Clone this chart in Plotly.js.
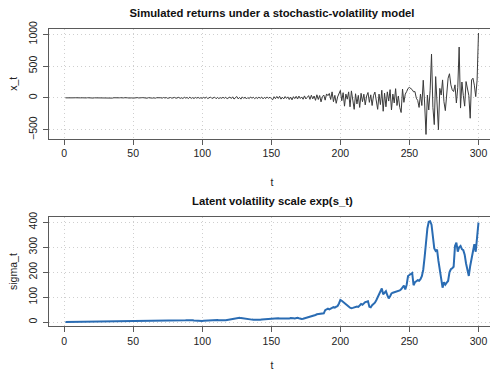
<!DOCTYPE html>
<html>
<head>
<meta charset="utf-8">
<script src="https://cdn.plot.ly/plotly-3.0.1.min.js"></script>
<style>
  html, body { margin: 0; padding: 0; overflow: hidden; background: #fff; }
  #chart { width: 500px; height: 371px; }
</style>
</head>
<body>
<div id="chart"></div>
<script>
// ---- Data ----
const t = [];
for (let i = 1; i <= 300; i++) t.push(i);

const returnsX = [
  0.8,-1.2,0.5,1.6,-0.3,-1.4,0.9,2.1,-0.6,1.1,
  -1.8,0.4,1.3,-2.2,0.7,-0.5,2.4,-1.1,0.2,1.9,
  -2.5,1.0,0.3,-1.7,2.8,-0.9,1.5,-2.6,0.6,3.1,
  -1.4,-2.9,1.8,0.5,-3.0,2.2,-0.7,1.2,-2.4,0.9,
  2.6,-1.5,-0.4,3.2,-2.8,1.1,-1.9,2.7,0.3,-3.4,
  2.9,-1.6,4.1,-0.8,-3.7,2.4,3.8,-2.9,1.2,-4.5,
  3.3,-1.0,5.2,-3.6,0.9,-4.8,2.7,4.6,-5.1,1.8,
  -3.9,6.2,-1.4,4.8,-6.5,2.3,5.9,-4.2,-2.1,7.4,
  -5.8,3.1,8.2,-6.9,1.5,-8.6,9.8,-3.4,6.5,-10.2,
  12.5,-7.8,4.2,-9.1,6.8,-3.5,7.2,-5.4,2.1,-6.3,
  8.5,-4.7,10.8,-9.4,5.6,13.2,-8.8,-3.1,11.5,-12.6,
  6.4,-9.3,3.8,-7.1,10.2,-5.5,8.9,-11.8,4.6,14.1,
  -10.5,16.8,-18.2,9.4,21.5,-14.7,7.3,-19.6,15.8,-8.2,
  12.4,-16.5,6.1,-11.3,14.2,-4.8,9.6,-12.5,7.9,-10.8,
  11.6,-6.2,13.9,-14.8,8.4,-9.7,15.2,-7.5,12.1,-11.4,
  -28.5,18.6,-12.4,22.5,-8.9,25.8,-19.4,10.6,-15.7,21.3,
  -8.4,16.2,-24.6,12.8,-30.5,19.4,-11.2,24.7,-17.8,28.3,
  -9.6,14.8,-21.5,31.2,-16.4,8.7,35.6,-22.9,41.8,-15.3,
  29.7,-38.4,48.6,-25.1,36.8,-62.4,19.5,45.2,-35.8,62.1,
  35,70,-25,95,-60,40,-85,15,75,118,
  -45,82,-130,60,-20,95,-140,110,-35,-180,
  65,-95,40,-150,72,-60,58,-110,30,85,
  -70,48,-120,35,92,-65,-180,60,-105,120,
  -210,75,-140,95,-50,130,-190,60,-80,145,
  -120,30,-150,-230,140,-70,60,100,150,165,
  150,130,95,100,-5,-40,-150,60,-120,278,
  -80,-575,45,-190,120,690,-150,-420,335,-60,
  -500,150,45,283,-60,-200,120,310,380,205,
  126,100,205,-80,160,800,-160,250,40,-130,
  257,160,40,-320,283,310,200,20,280,1020
];

const sigmaT = [
  1.0,1.1,1.0,1.2,1.1,1.3,1.2,1.2,1.4,1.3,
  1.3,1.5,1.4,1.6,1.5,1.4,1.6,1.7,1.5,1.6,
  1.8,1.7,1.9,2.0,1.8,1.9,2.1,2.2,2.0,2.1,
  2.3,2.2,2.4,2.3,2.1,2.2,2.0,1.9,2.1,2.0,
  1.9,2.1,2.2,2.0,2.3,2.4,2.2,2.5,2.6,2.4,
  2.7,2.9,2.8,3.0,3.2,3.0,3.3,3.1,3.4,3.2,
  3.5,3.3,3.6,3.4,3.3,3.7,3.9,3.6,4.0,4.3,
  4.6,4.4,4.9,5.3,5.0,4.8,5.2,5.6,5.4,5.9,
  6.2,6.0,6.6,7.1,6.8,7.5,8.0,7.6,8.3,8.8,
  8.2,8.9,7.8,7.0,6.2,5.8,5.4,5.0,4.9,5.2,
  5.6,6.1,6.8,7.4,8.1,8.6,8.2,8.9,9.3,8.8,
  8.4,7.9,7.6,7.2,7.0,7.5,8.3,9.2,10.1,11.5,
  12.8,14.2,15.6,16.8,17.5,16.9,17.8,16.5,15.4,14.6,
  13.8,12.9,12.1,11.6,11.0,10.4,10.0,9.5,9.2,9.0,
  9.3,9.8,10.5,11.0,10.6,10.9,11.6,12.4,12.0,12.8,
  14.5,16.2,15.8,16.9,16.1,15.2,14.8,15.9,14.7,13.9,
  13.2,12.8,14.6,16.8,17.5,15.9,14.8,16.2,17.8,16.0,
  13.5,12.8,14.2,15.6,17.9,19.4,20.8,21.5,24.0,26.2,
  27.5,29.0,31.6,32.4,31.8,33.0,33.9,35.5,48.0,52.5,
  54.0,51.2,55.8,57.6,60.1,58.4,62.0,64.5,75.0,89.0,
  86.0,80.5,76.0,70.2,66.0,62.5,58.0,56.0,57.5,59.8,
  62.5,63.0,61.4,66.5,73.0,70.0,76.5,80.5,82.0,84.0,
  62.0,60.0,68.0,72.0,78.0,88.0,100.0,112.0,125.0,135.0,
  112.0,118.0,124.0,108.0,95.0,104.0,115.0,118.0,120.0,122.0,
  121.0,124.0,127.0,132.0,140.0,147.0,131.0,150.0,185.0,188.0,
  192.0,197.0,148.0,160.0,164.0,168.0,166.0,172.0,184.0,210.0,
  260,320,375,402,404,390,345,295,285,290,
  245,210,180,138,160,150,158,165,200,212,
  216,222,305,318,282,300,305,292,288,270,
  235,210,185,225,255,275,312,282,340,398
];

const xTicks = [0, 50, 100, 150, 200, 250, 300];
const topYTicks = [-500, 0, 500, 1000];
const botYTicks = [0, 100, 200, 300, 400];

const topTitle = 'Simulated returns under a stochastic-volatility model';
const botTitle = 'Latent volatility scale exp(s_t)';

// R-style 4% axis padding
function padRange(arr) {
  const mn = Math.min(...arr), mx = Math.max(...arr);
  const e = (mx - mn) * 0.04;
  return [mn - e, mx + e];
}

const gridStyle = { showgrid: true, gridcolor: '#cfcfcf', griddash: '1px,3px', gridwidth: 1, zeroline: false };
const lineStyle = { showline: true, mirror: true, linecolor: '#5a5a5a', linewidth: 1,
                    ticks: 'outside', ticklen: 5, tickcolor: '#5a5a5a', tickwidth: 1 };
const tickFont = { family: 'Liberation Sans, Arial, sans-serif', size: 10.5, color: '#222' };
const axTitleFont = { family: 'Liberation Sans, Arial, sans-serif', size: 10.5, color: '#222' };
const mainFont = { family: 'Liberation Sans, Arial, sans-serif', size: 11.3, weight: 'bold', color: '#111' };

const traces = [
  { x: t, y: returnsX, type: 'scatter', mode: 'lines', xaxis: 'x', yaxis: 'y',
    line: { color: '#3a3a3a', width: 1 }, hoverinfo: 'skip' },
  { x: t, y: sigmaT, type: 'scatter', mode: 'lines', xaxis: 'x2', yaxis: 'y2',
    line: { color: '#2a6cb3', width: 2 }, hoverinfo: 'skip' }
];

const xr = padRange(t);
const layout = {
  width: 500, height: 371,
  margin: { l: 49, r: 5, t: 29, b: 44.5 },
  paper_bgcolor: '#ffffff', plot_bgcolor: '#ffffff',
  font: { family: 'Liberation Sans, Arial, sans-serif', size: 10.5, color: '#222' },
  showlegend: false,
  title: { text: topTitle, x: 0.5, xref: 'paper', y: 1 - 13 / 371, yref: 'container', yanchor: 'middle',
           font: mainFont },
  xaxis: Object.assign({ domain: [0, 1], anchor: 'y', range: xr, tickvals: xTicks, tickfont: tickFont,
           title: { text: 't', standoff: 20, font: axTitleFont } }, gridStyle, lineStyle),
  yaxis: Object.assign({ domain: [0.6313, 1], anchor: 'x', range: padRange(returnsX), tickvals: topYTicks,
           tickangle: -90, tickfont: tickFont, ticklabelstandoff: 2,
           title: { text: 'x_t', standoff: 7, font: axTitleFont } }, gridStyle, lineStyle),
  xaxis2: Object.assign({ domain: [0, 1], anchor: 'y2', range: xr, tickvals: xTicks, tickfont: tickFont,
           title: { text: 't', standoff: 20, font: axTitleFont } }, gridStyle, lineStyle),
  yaxis2: Object.assign({ domain: [0, 0.3664], anchor: 'x2', range: padRange(sigmaT), tickvals: botYTicks,
           tickangle: -90, tickfont: tickFont, ticklabelstandoff: 2,
           title: { text: 'sigma_t', standoff: 7, font: axTitleFont } }, gridStyle, lineStyle),
  annotations: [
    { text: botTitle, xref: 'paper', yref: 'paper', x: 0.5, y: (326.5 - 201) / 297.5,
      xanchor: 'center', yanchor: 'middle', showarrow: false, font: mainFont }
  ]
};

Plotly.newPlot('chart', traces, layout, { staticPlot: true, displayModeBar: false });
</script>
</body>
</html>
